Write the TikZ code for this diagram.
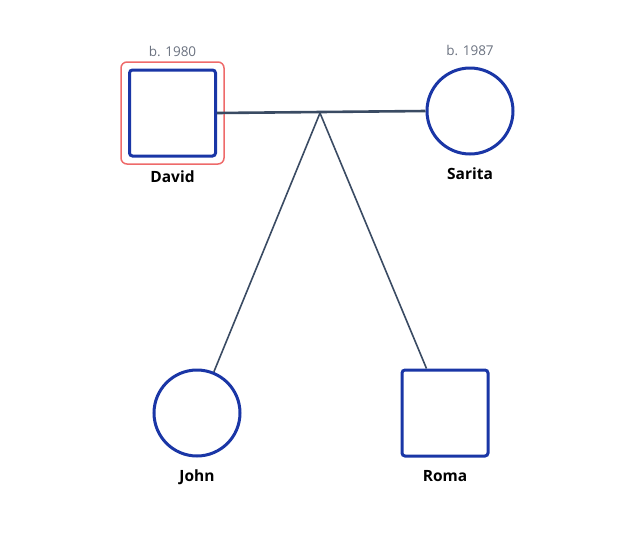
\documentclass[tikz,border=0pt]{standalone}
\usepackage{fontspec}
\setmainfont{Open Sans}
\definecolor{pblue}{HTML}{1A36A6}
\definecolor{pline}{HTML}{3A4B63}
\definecolor{pred}{HTML}{EE6A6A}
\definecolor{pgray}{HTML}{6B7280}
\begin{document}
\begin{tikzpicture}[x=1pt,y=-1pt,
  male/.style={draw=pblue,line width=3pt,rounded corners=3pt,minimum size=86pt,inner sep=0pt,fill=white},
  female/.style={draw=pblue,line width=3pt,circle,minimum size=86pt,inner sep=0pt,fill=white},
  pname/.style={font=\fontsize{15.5}{18}\selectfont\bfseries,text=black},
  birth/.style={font=\fontsize{13.5}{15}\selectfont,text=pgray},
  couple/.style={draw=pline,line width=2.6pt},
  child/.style={draw=pline,line width=1.6pt},
  sel/.style={draw=pred,line width=1.5pt,rounded corners=6pt}]
\useasboundingbox (0,0) rectangle (641,539);
\node[sel,minimum width=103pt,minimum height=102pt,inner sep=0pt] (selbox) at (172.5,113) {};
\node[male] (david) at (172.5,113) {};
\node[female] (sarita) at (470,111) {};
\node[female] (john) at (197,413) {};
\node[male] (roma) at (445,413) {};
\coordinate (mid) at (320,113);
\path[couple] (david.east) -- (sarita.west);
\path[child] (mid) -- (john);
\path[child] (mid) -- (roma);
\node[birth] (bd) at (172.5,51) {b. 1980};
\node[birth] (bs) at (470,50) {b. 1987};
\node[pname] (ld) at (172.5,177) {David};
\node[pname] (ls) at (470,174) {Sarita};
\node[pname] (lj) at (197,477) {John};
\node[pname] (lr) at (445,476) {Roma};
\end{tikzpicture}
\end{document}
